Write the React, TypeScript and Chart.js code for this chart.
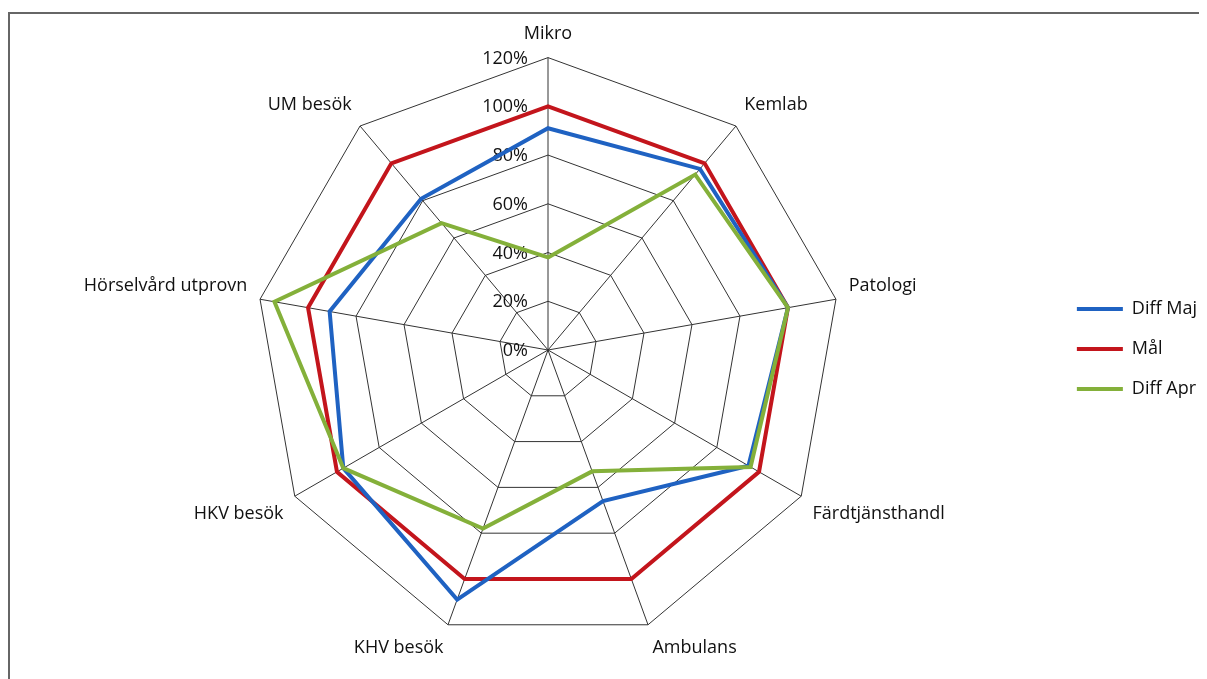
import React, { useEffect, useRef } from "react";
import { Chart, registerables } from "chart.js";

Chart.register(...registerables);

const categories = [
  "Mikro",
  "Kemlab",
  "Patologi",
  "Färdtjänsthandl",
  "Ambulans",
  "KHV besök",
  "HKV besök",
  "Hörselvård utprovn",
  "UM besök",
];
const diffMaj = [91, 97, 100, 95, 66, 109, 97, 91, 81];
const mal = [100, 100, 100, 100, 100, 100, 100, 100, 100];
const diffApr = [38, 94, 100, 96, 53, 78, 97, 114, 68];
const seriesNames = ["Diff Maj", "Mål", "Diff Apr"];
const scaleMin = 0;
const scaleMax = 120;
const scaleStep = 20;

const FONT = '"Open Sans", "DejaVu Sans", sans-serif';

const leftTicks = {
  id: "leftTicks",
  beforeDatasetsDraw(chart: any) {
    const s = chart.scales.r;
    const ctx = chart.ctx;
    ctx.save();
    ctx.font = `18px ${FONT}`;
    ctx.fillStyle = "#111";
    ctx.textAlign = "right";
    ctx.textBaseline = "middle";
    s.ticks.forEach((t: any) => {
      const d = s.getDistanceFromCenterForValue(t.value);
      ctx.fillText(`${t.value}%`, s.xCenter - 20, s.yCenter - d + 1);
    });
    ctx.restore();
  },
};

export default function App() {
  const ref = useRef<HTMLCanvasElement | null>(null);

  useEffect(() => {
    document.documentElement.style.overflow = "hidden";
    const canvas = ref.current;
    if (!canvas) return;
    const chart = new Chart(canvas, {
      type: "radar",
      data: {
        labels: categories,
        datasets: [
          {
            label: seriesNames[0],
            data: diffMaj,
            borderColor: "#1f62c2",
            backgroundColor: "#1f62c2",
            borderWidth: 4,
            pointRadius: 0,
            pointHoverRadius: 0,
            pointStyle: "line",
            fill: false,
            order: 2,
          },
          {
            label: seriesNames[1],
            data: mal,
            borderColor: "#c3151c",
            backgroundColor: "#c3151c",
            borderWidth: 4,
            pointRadius: 0,
            pointHoverRadius: 0,
            pointStyle: "line",
            fill: false,
            order: 3,
          },
          {
            label: seriesNames[2],
            data: diffApr,
            borderColor: "#84b03a",
            backgroundColor: "#84b03a",
            borderWidth: 4,
            pointRadius: 0,
            pointHoverRadius: 0,
            pointStyle: "line",
            fill: false,
            order: 1,
          },
        ],
      },
      options: {
        animation: false,
        responsive: true,
        maintainAspectRatio: false,
        layout: { padding: { top: 0, bottom: 11, left: 32, right: 0 } },
        elements: { line: { tension: 0, borderJoinStyle: "miter" } },
        scales: {
          r: {
            min: scaleMin,
            max: scaleMax,
            ticks: { stepSize: scaleStep, display: false },
            grid: { color: "#333", lineWidth: 1, circular: false },
            angleLines: { color: "#333", lineWidth: 1 },
            pointLabels: {
              font: { family: FONT, size: 18 },
              color: "#111",
              padding: 13,
            },
          },
        },
        plugins: {
          tooltip: { enabled: false },
          legend: {
            position: "right",
            title: { display: true, text: " ", padding: 2, font: { size: 10 } },
            labels: {
              usePointStyle: true,
              pointStyleWidth: 46,
              font: { family: FONT, size: 18 },
              color: "#111",
              padding: 22,
              sort: (a: any, b: any) => a.datasetIndex - b.datasetIndex,
            },
          },
        },
      },
      plugins: [leftTicks],
    });
    return () => chart.destroy();
  }, []);

  return (
    <div
      style={{
        marginTop: 4,
        width: 1199,
        height: 667,
        borderTop: "2px solid #666",
        borderLeft: "2px solid #666",
        boxSizing: "border-box",
        position: "relative",
        background: "#fff",
      }}
    >
      <canvas ref={ref} />
    </div>
  );
}
